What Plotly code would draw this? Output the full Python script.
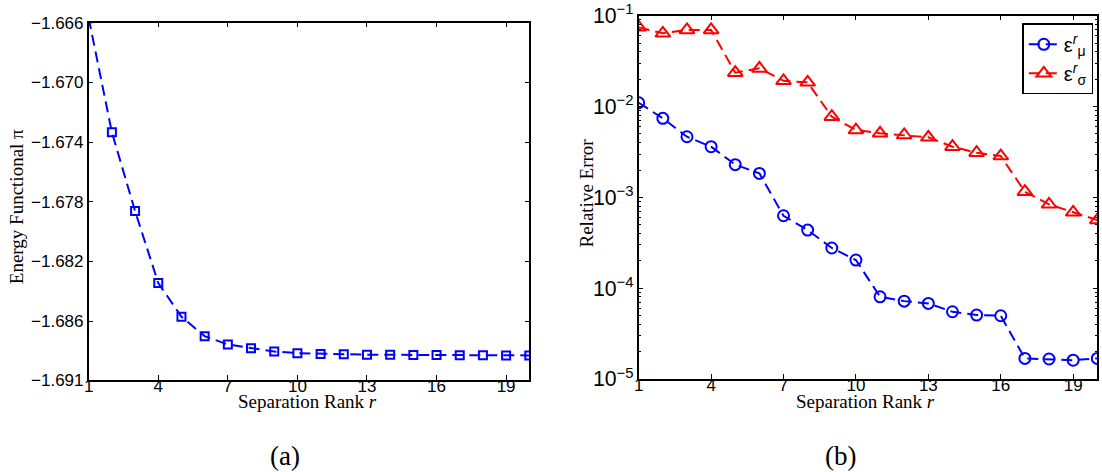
import plotly.graph_objects as go

# ---------------- data ----------------
rank = list(range(1, 21))

energy = [-1.6657, -1.67335, -1.67863, -1.68345, -1.68571, -1.68701, -1.68757,
          -1.68782, -1.68804, -1.68815, -1.68820, -1.68823, -1.68825, -1.68826,
          -1.68827, -1.68828, -1.68829, -1.68829, -1.68830, -1.68830]

err_mu = [0.01101, 0.00741, 0.00465, 0.00361, 0.00229, 0.001836, 0.000627,
          0.000436, 0.000277, 0.000204, 8.04e-5, 7.2e-5, 6.8e-5, 5.5e-5,
          5.06e-5, 4.97e-5, 1.685e-5, 1.66e-5, 1.61e-5, 1.685e-5]

err_sigma = [0.0744, 0.064, 0.0697, 0.0697, 0.0236, 0.0263, 0.0192, 0.01845,
             0.00773, 0.00551, 0.00507, 0.00486, 0.00458, 0.00361, 0.0031,
             0.00285, 0.001153, 0.000837, 0.000684, 0.000562]

x_ticks = [1, 4, 7, 10, 13, 16, 19]
e_tickvals = [-1.666, -1.670, -1.674, -1.678, -1.682, -1.686, -1.68995]
e_ticktext = ["\u22121.666", "\u22121.670", "\u22121.674", "\u22121.678",
              "\u22121.682", "\u22121.686", "\u22121.691"]
e_range = [-1.68995, -1.666]

# ---------------- figure ----------------
W, H = 1102, 472
def px(x):
    return x / W
def py(y):
    return 1 - y / H

BLUE = "#0000FF"
RED = "#FF0000"
DASH = "11px,6px"
SANS = "Liberation Sans, Arial, sans-serif"
SERIF = "Liberation Serif, Times New Roman, serif"

fig = go.Figure()

fig.add_trace(go.Scatter(
    x=rank, y=energy, mode="lines+markers", xaxis="x", yaxis="y",
    line=dict(color=BLUE, width=2, dash=DASH),
    marker=dict(symbol="square-open", size=8, color=BLUE, line=dict(width=2, color=BLUE)),
    showlegend=False))

fig.add_trace(go.Scatter(
    x=rank, y=err_mu, mode="lines+markers", xaxis="x2", yaxis="y2",
    name="\u03b5<sup><i>r</i></sup><sub>\u03bc</sub>",
    line=dict(color=BLUE, width=2, dash=DASH),
    marker=dict(symbol="circle-open", size=11, color=BLUE, line=dict(width=2, color=BLUE))))

fig.add_trace(go.Scatter(
    x=rank, y=err_sigma, mode="lines+markers", xaxis="x2", yaxis="y2",
    name="\u03b5<sup><i>r</i></sup><sub>\u03c3</sub>",
    line=dict(color=RED, width=2, dash=DASH),
    marker=dict(symbol="triangle-up-open", size=13, color=RED, line=dict(width=2, color=RED))))

axis_common = dict(
    showline=True, linecolor="black", linewidth=1.5, mirror="ticks",
    ticks="inside", ticklen=5, tickwidth=1, tickcolor="black",
    showgrid=False, zeroline=False, automargin=False,
    tickfont=dict(family=SANS, size=17, color="black"),
)

fig.update_layout(
    width=W, height=H,
    margin=dict(l=0, r=0, t=0, b=0, pad=0, autoexpand=False),
    paper_bgcolor="white", plot_bgcolor="white",
    xaxis=dict(domain=[px(88.7), px(529.3)], range=[1, 20], tickvals=x_ticks,
               anchor="y", ticklabelstandoff=-10, **axis_common),
    yaxis=dict(domain=[py(380), py(22.7)], range=e_range, tickvals=e_tickvals,
               ticktext=e_ticktext, anchor="x", **axis_common),
    xaxis2=dict(domain=[px(638.7), px(1097.3)], range=[1, 20], tickvals=x_ticks,
                anchor="y2", ticklabelstandoff=-10, **axis_common),
    yaxis2=dict(domain=[py(379), py(15.7)], type="log", range=[-5, -1],
                dtick=1, exponentformat="power", anchor="x2",
                minor=dict(ticks="inside", ticklen=3, tickcolor="black", dtick="D1",
                           showgrid=False),
                **axis_common),
    legend=dict(x=px(1093.3), y=py(23.3), xanchor="right", yanchor="top",
                bgcolor="white", bordercolor="black", borderwidth=1.5,
                font=dict(family=SANS, size=20, color="black"),
                itemwidth=30),
    showlegend=True,
)

annotations = [
    dict(text="Energy Functional \u03c0", x=px(16.5), y=py(206.7), textangle=-90,
         font=dict(family=SERIF, size=19, color="black")),
    dict(text="Relative Error", x=px(585.5), y=py(193), textangle=-90,
         font=dict(family=SERIF, size=19, color="black")),
    dict(text="Separation Rank <i>r</i>", x=px(307), y=py(401),
         font=dict(family=SERIF, size=19, color="black")),
    dict(text="Separation Rank <i>r</i>", x=px(865), y=py(401),
         font=dict(family=SERIF, size=19, color="black")),
    dict(text="(a)", x=px(285), y=py(456), font=dict(family=SERIF, size=27, color="black")),
    dict(text="(b)", x=px(840), y=py(456), font=dict(family=SERIF, size=27, color="black")),
]
for a in annotations:
    a.update(xref="paper", yref="paper", showarrow=False, xanchor="center", yanchor="middle")
fig.update_layout(annotations=annotations)

fig.write_html("out.html")
